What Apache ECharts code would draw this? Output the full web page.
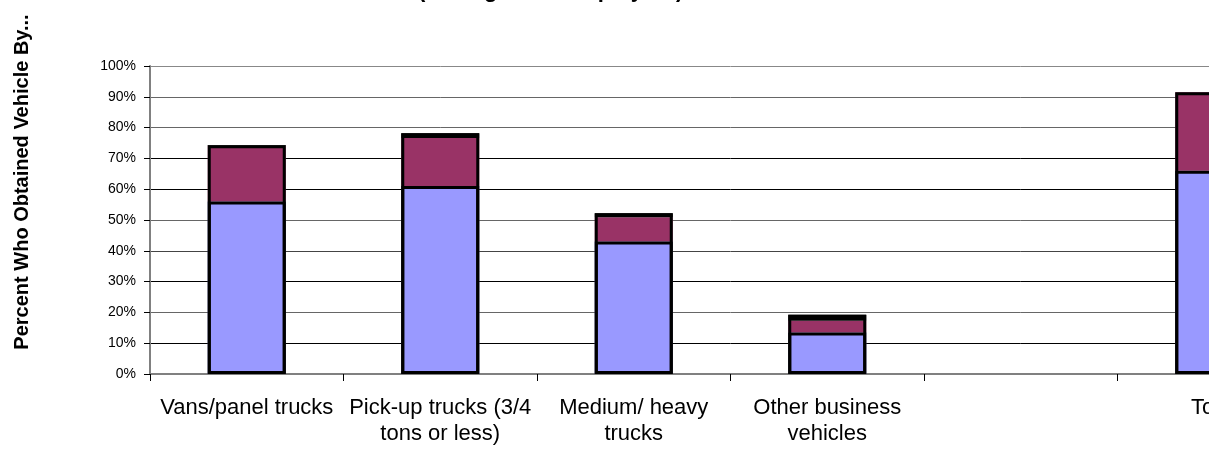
<!DOCTYPE html>
<html>
<head>
  <meta charset="utf-8">
  <script src="https://cdn.jsdelivr.net/npm/echarts@6/dist/echarts.min.js"></script>
  <style>
    html, body { margin: 0; padding: 0; background: #fff; overflow: hidden; }
    /* the picture is cut on the right, so the chart is wider than its frame */
    #frame { width: 1209px; height: 449px; overflow: hidden; }
    #chart { width: 1330px; height: 449px; }
  </style>
</head>
<body>
<div id="frame"><div id="chart"></div></div>
<script>
  // categories (5th slot is empty in the source)
  var categories = ['Vans/panel trucks', 'Pick-up trucks (3/4\ntons or less)', 'Medium/ heavy\ntrucks', 'Other business\nvehicles', '', 'Total'];
  // stacked percentages, bottom to top
  var bluePart = [56, 61, 43, 13.5, null, 66];
  var maroonPart = [18, 15.6, 7.9, 3.8, null, 25.5];
  var blackPart = [0.3, 1.6, 1.3, 1.9, null, 0];
  var yTicks = [0, 10, 20, 30, 40, 50, 60, 70, 80, 90, 100];

  var font = 'Arial, "Liberation Sans", sans-serif';

  // bar totals, used only for the thick outline round each stack
  var totals = bluePart.map(function (v, i) {
    return v == null ? null : v + maroonPart[i] + blackPart[i];
  });

  function barSeries(name, data, color) {
    return {
      name: name,
      type: 'bar',
      stack: 'total',
      barWidth: 78,
      data: data,
      itemStyle: { color: color }
    };
  }

  // transparent box with a thick black edge, laid over the stack
  function edgeSeries(name, data) {
    return {
      name: name,
      type: 'bar',
      barWidth: 78,
      barGap: '-100%',
      data: data,
      z: 3,
      silent: true,
      itemStyle: { color: 'rgba(0,0,0,0)', borderColor: '#000', borderWidth: 3 }
    };
  }

  var chart = echarts.init(document.getElementById('chart'));
  chart.setOption({
    animation: false,
    grid: { left: 150, top: 66, height: 308, right: 19 },
    graphic: [
      {
        type: 'text',
        left: 418,
        top: -20.5,
        style: { text: '(among small employers)', font: 'bold 22px ' + font, fill: '#000' }
      },
      {
        type: 'text',
        x: 22,
        y: 182,
        rotation: Math.PI / 2,
        style: {
          text: 'Percent Who Obtained Vehicle By...',
          font: 'bold 20px ' + font,
          fill: '#000',
          align: 'center',
          verticalAlign: 'middle'
        }
      }
    ],
    xAxis: {
      type: 'category',
      data: categories,
      axisLine: { lineStyle: { color: '#808080', width: 2 } },
      axisTick: { show: true, length: 7, lineStyle: { color: '#000' } },
      axisLabel: {
        color: '#000',
        fontFamily: font,
        fontSize: 22,
        lineHeight: 26,
        margin: 21,
        interval: 0
      }
    },
    yAxis: {
      type: 'value',
      min: yTicks[0],
      max: yTicks[yTicks.length - 1],
      interval: 10,
      axisLine: { show: true, lineStyle: { color: '#808080', width: 2 } },
      axisTick: { show: true, length: 6, inside: false, lineStyle: { color: '#000' } },
      axisLabel: {
        color: '#000',
        fontFamily: font,
        fontSize: 14,
        margin: 14,
        formatter: '{value}%'
      },
      splitLine: {
        lineStyle: {
          color: ['#666', '#000', '#666', '#000', '#444', '#666', '#000', '#000', '#666', '#666', '#888'],
          width: 1
        }
      }
    },
    series: [
      barSeries('blue', bluePart, '#9999FF'),
      barSeries('maroon', maroonPart, '#993366'),
      barSeries('black', blackPart, '#000000'),
      edgeSeries('blueEdge', bluePart),
      edgeSeries('outline', totals)
    ]
  });
</script>
</body>
</html>
